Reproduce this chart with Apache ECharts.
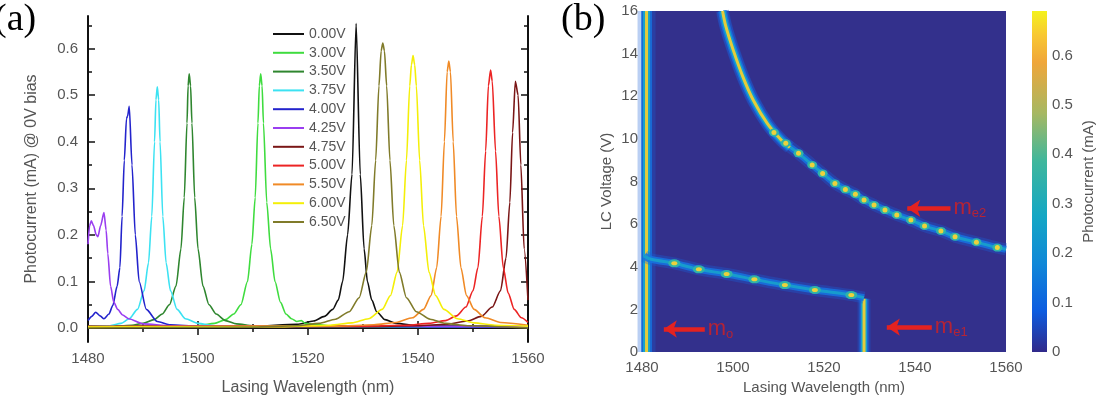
<!DOCTYPE html>
<html>
<head>
	<meta charset="utf-8" />
	<script src="https://cdn.jsdelivr.net/npm/echarts@6/dist/echarts.min.js"></script>
	<style>
		body { margin: 0; background: #fff; }
	</style>
</head>
<body>
	<div id="main" style="width: 1102px;height:396px;"></div>

	<script type="text/javascript">
		// ---- panel (a): photocurrent spectra, one curve per LC voltage ----
		var voltLabels = ['0.00V', '3.00V', '3.50V', '3.75V', '4.00V', '4.25V', '4.75V', '5.00V', '5.50V', '6.00V', '6.50V'];

		var curve000 = [[1480, 0.004], [1510, 0.004], [1518, 0.008], [1521, 0.015], [1523, 0.025], [1524.5, 0.04], [1525.5, 0.06], [1526.3, 0.1], [1527.2, 0.2], [1528, 0.33], [1528.75, 0.654], [1529.5, 0.33], [1530.2, 0.17], [1530.8, 0.1], [1531.6, 0.06], [1532.5, 0.035], [1534, 0.018], [1536, 0.01], [1540, 0.005], [1560, 0.003]];
		var curve300 = [[1480, 0.002], [1495, 0.003], [1500, 0.005], [1503, 0.01], [1505, 0.018], [1506.5, 0.03], [1507.8, 0.05], [1509, 0.1], [1509.8, 0.18], [1510.4, 0.28], [1510.9, 0.44], [1511.15, 0.52], [1511.4, 0.546], [1511.65, 0.52], [1511.9, 0.44], [1512.5, 0.27], [1513.2, 0.17], [1514, 0.1], [1515, 0.055], [1516, 0.03], [1517, 0.02], [1518, 0.014], [1518.8, 0.016], [1519.5, 0.01], [1521, 0.008], [1525, 0.004], [1560, 0.002]];
		var curve350 = [[1480, 0.003], [1485, 0.004], [1488, 0.006], [1490, 0.01], [1492, 0.018], [1493.5, 0.03], [1494.8, 0.05], [1496, 0.09], [1496.9, 0.17], [1497.5, 0.28], [1498, 0.44], [1498.2, 0.52], [1498.4, 0.546], [1498.65, 0.52], [1498.9, 0.44], [1499.4, 0.28], [1500, 0.17], [1500.9, 0.09], [1502, 0.05], [1503.3, 0.03], [1505, 0.016], [1507, 0.009], [1510, 0.005], [1520, 0.003], [1560, 0.002]];
		var curve375 = [[1480, 0.003], [1484, 0.005], [1486, 0.01], [1487.5, 0.02], [1489, 0.04], [1490.2, 0.08], [1491, 0.14], [1491.6, 0.24], [1492.1, 0.4], [1492.35, 0.49], [1492.6, 0.518], [1492.85, 0.49], [1493.1, 0.4], [1493.6, 0.24], [1494.2, 0.14], [1495, 0.08], [1496.2, 0.04], [1497.7, 0.02], [1500, 0.01], [1503, 0.005], [1510, 0.003], [1560, 0.002]];
		var curve400 = [[1480, 0.016], [1480.7, 0.025], [1481.4, 0.034], [1482.2, 0.026], [1482.9, 0.02], [1483.8, 0.03], [1484.5, 0.048], [1485.3, 0.09], [1485.8, 0.13], [1486.2, 0.24], [1486.6, 0.36], [1487.0, 0.45], [1487.2, 0.455], [1487.5, 0.476], [1488.0, 0.35], [1488.6, 0.2], [1489.3, 0.1], [1490.6, 0.04], [1492.6, 0.014], [1495, 0.007], [1500, 0.004], [1560, 0.002]];
		var curve425 = [[1480, 0.18], [1480.3, 0.22], [1480.6, 0.23], [1481, 0.22], [1481.5, 0.2], [1481.8, 0.196], [1482.3, 0.22], [1482.9, 0.248], [1483.3, 0.21], [1483.6, 0.16], [1484.1, 0.09], [1484.7, 0.055], [1485.4, 0.04], [1486.3, 0.028], [1487.4, 0.02], [1490, 0.009], [1495, 0.005], [1560, 0.003]];
		var curve475 = [[1480, 0.003], [1530, 0.003], [1540, 0.005], [1545, 0.008], [1549, 0.015], [1551.5, 0.025], [1553.5, 0.045], [1555, 0.08], [1556, 0.15], [1556.7, 0.27], [1557.2, 0.42], [1557.7, 0.53], [1558.2, 0.5], [1558.7, 0.35], [1559.3, 0.17], [1560, 0.06]];
		var curve500 = [[1480, 0.003], [1530, 0.004], [1538, 0.006], [1542, 0.01], [1545, 0.016], [1547, 0.026], [1548.7, 0.045], [1550, 0.08], [1550.9, 0.13], [1551.7, 0.24], [1552.3, 0.38], [1552.8, 0.52], [1553.2, 0.554], [1553.5, 0.53], [1554.1, 0.38], [1554.7, 0.24], [1555.5, 0.13], [1556.4, 0.075], [1557.5, 0.04], [1558.8, 0.022], [1560, 0.012]];
		var curve550 = [[1480, 0.003], [1525, 0.004], [1532, 0.007], [1536, 0.012], [1539, 0.022], [1541, 0.04], [1542.4, 0.07], [1543.4, 0.13], [1544.2, 0.24], [1544.8, 0.4], [1545.3, 0.55], [1545.6, 0.573], [1545.9, 0.55], [1546.4, 0.4], [1547, 0.24], [1547.8, 0.13], [1548.8, 0.07], [1550.2, 0.04], [1552.2, 0.022], [1555, 0.012], [1560, 0.006]];
		var curve600 = [[1480, 0.002], [1515, 0.003], [1524, 0.006], [1528, 0.011], [1531, 0.02], [1533.5, 0.04], [1535, 0.07], [1536.2, 0.12], [1537.2, 0.22], [1537.9, 0.36], [1538.5, 0.52], [1538.8, 0.565], [1539.1, 0.585], [1539.4, 0.565], [1539.7, 0.52], [1540.3, 0.36], [1541, 0.22], [1542, 0.12], [1543.2, 0.07], [1544.7, 0.04], [1547.2, 0.02], [1550.2, 0.011], [1554, 0.006], [1560, 0.004]];
		var curve650 = [[1480, 0.0], [1510, 0.002], [1518, 0.005], [1522, 0.01], [1525, 0.019], [1527.5, 0.035], [1529.3, 0.065], [1530.6, 0.12], [1531.6, 0.22], [1532.3, 0.36], [1532.9, 0.52], [1533.3, 0.595], [1533.6, 0.612], [1533.9, 0.595], [1534.3, 0.52], [1534.9, 0.36], [1535.6, 0.22], [1536.6, 0.12], [1537.9, 0.065], [1539.7, 0.035], [1542.2, 0.019], [1545, 0.01], [1549, 0.005], [1560, 0.0]];

		var curves = [curve000, curve300, curve350, curve375, curve400, curve425, curve475, curve500, curve550, curve600, curve650];
		var lineColors = ['#111111', '#3fdc3f', '#2f862f', '#3ce2f2', '#2323cc', '#9a3ef0', '#7a1616', '#ec2424', '#f08a26', '#f4ef08', '#807b2a'];

		var yMajor = [0, 0.1, 0.2, 0.3, 0.4, 0.5, 0.6];
		var yMinor = [0.05, 0.15, 0.25, 0.35, 0.45, 0.55, 0.65];

		// ---- panel (b): mode tracks in the wavelength / LC voltage map ----
		var moTrack = [[1481, 0], [1481, 16]];
		var me1Vertical = [[1528.8, 0], [1528.8, 2.5]];
		var me1Diag = [[1480.5, 4.5], [1482, 4.35], [1487.1, 4.16], [1492.5, 3.88], [1498.6, 3.66], [1504.7, 3.41], [1511.4, 3.14], [1518, 2.91], [1526, 2.67], [1528.8, 2.55]];
		var me1Dots = [[1487.1, 4.16], [1492.5, 3.88], [1498.6, 3.66], [1504.7, 3.41], [1511.4, 3.14], [1518, 2.91], [1526, 2.67]];
		var me2Curve = [[1497.7, 16], [1498.4, 15.3], [1500, 14.2], [1502.2, 12.9], [1504.5, 11.8], [1507.6, 10.7], [1510.6, 9.95], [1514.4, 9.32], [1517.4, 8.78], [1519.7, 8.38], [1522.4, 7.91], [1524.7, 7.63], [1526.9, 7.4], [1528.8, 7.13], [1531, 6.9], [1533.4, 6.66], [1536, 6.43], [1539.1, 6.19], [1542.1, 5.91], [1545.7, 5.68], [1548.8, 5.41], [1553.5, 5.15], [1558.1, 4.9], [1560, 4.82]];
		var me2Core = [[1497.7, 16], [1498.4, 15.3], [1500, 14.2], [1502.2, 12.9], [1504.5, 11.8], [1507.6, 10.7], [1510.6, 9.95], [1512.5, 9.6]];
		var me2Dots = [[1509, 10.3], [1511.6, 9.8], [1514.4, 9.32], [1517.4, 8.78], [1519.7, 8.38], [1522.4, 7.91], [1524.7, 7.63], [1526.9, 7.4], [1528.8, 7.13], [1531, 6.9], [1533.4, 6.66], [1536, 6.43], [1539.1, 6.19], [1542.1, 5.91], [1545.7, 5.68], [1548.8, 5.41], [1553.5, 5.15], [1558.1, 4.9]];

		// arrows: [tail, tip] and the label of each mode
		var arrowMo = [[1493.8, 1.08], [1484.8, 1.08]];
		var arrowMe1 = [[1543.7, 1.17], [1533.8, 1.17]];
		var arrowMe2 = [[1547.8, 6.74], [1538.3, 6.74]];
		var modeNames = [['m', 'o'], ['m', 'e1'], ['m', 'e2']];

		var cbarMax = 0.69;
		var cbarTicks = [0, 0.1, 0.2, 0.3, 0.4, 0.5, 0.6];

		var myChart = echarts.init(document.getElementById('main'), null, { renderer: 'canvas' });

		var font = 'Liberation Sans, Arial, sans-serif';
		var grey = '#555';

		function frameY(pos, values, len, withLine) {
			return {
				type: 'value', gridIndex: 0, position: pos, min: -0.03, max: 0.67,
				axisLine: { show: withLine, lineStyle: { color: '#111', width: 2 } },
				axisTick: { show: true, inside: true, length: len, customValues: values, lineStyle: { color: '#111', width: 1.5 } },
				axisLabel: { show: false },
				splitLine: { show: false }
			};
		}

		function glow(data, layers) {
			return layers.map(function (l) {
				return {
					type: 'line', xAxisIndex: 2, yAxisIndex: 4, data: data, symbol: 'none', silent: true,
					smooth: 0.3, z: 2, lineStyle: { color: l[0], width: l[1], opacity: l[2] }
				};
			});
		}
		var edgeGlow = [['#1a5fd6', 18, 0.3], ['#1673e0', 11, 0.8], ['#17a2cc', 7, 1], ['#e4cc3a', 3, 1]];
		var fullGlow = [['#1a5fd6', 13, 0.35], ['#1673e0', 9, 0.8], ['#17a2cc', 6, 1], ['#e4cc3a', 3, 1]];
		var dotGlow = [['#1a5fd6', 12, 0.35], ['#1673e0', 7, 0.85], ['#17a2cc', 3, 0.9]];

		function dots(data, outer, inner) {
			return [
				{ type: 'scatter', xAxisIndex: 2, yAxisIndex: 4, z: 5, data: data.slice(), symbol: 'circle', symbolSize: outer, silent: true, itemStyle: { color: '#2fb3a8', opacity: 1 } },
				{ type: 'scatter', xAxisIndex: 2, yAxisIndex: 4, z: 6, data: data.slice(), symbol: 'circle', symbolSize: inner, silent: true, itemStyle: { color: '#ecd23c', opacity: 1 } }
			];
		}

		var series = curves.map(function (c, i) {
			return {
				name: voltLabels[i], type: 'line', xAxisIndex: 0, yAxisIndex: 0, data: c,
				symbol: 'none', smooth: 0.25, smoothMonotone: 'x',
				lineStyle: { color: lineColors[i], width: 1.6 }, itemStyle: { color: lineColors[i] }
			};
		});

		series = series
			.concat(glow(moTrack, edgeGlow))
			.concat(glow(me1Vertical, fullGlow))
			.concat(glow(me1Diag, dotGlow))
			.concat(glow(me2Curve, dotGlow))
			.concat(glow(me2Core, fullGlow))
			.concat(dots(me1Dots, [12, 8], [6, 4]))
			.concat(dots(me2Dots, [10, 8], [5, 5]));

		series.push({
			type: 'lines', coordinateSystem: 'cartesian2d', xAxisIndex: 2, yAxisIndex: 4, silent: true, z: 7,
			symbol: ['none', 'arrow'], symbolSize: 13,
			lineStyle: { color: '#e42220', width: 4.5, opacity: 1 },
			data: [{ coords: arrowMo }, { coords: arrowMe1 }, { coords: arrowMe2 }]
		});

		series.push({
			type: 'scatter', xAxisIndex: 2, yAxisIndex: 4, symbolSize: 0, silent: true, z: 7,
			data: [arrowMo[0], arrowMe1[0], arrowMe2[0]].map(function (p, i) {
				return { value: p, label: { formatter: '{m|' + modeNames[i][0] + '}{s|' + modeNames[i][1] + '}' } };
			}),
			label: {
				show: true, position: 'right', distance: 3,
				rich: {
					m: { fontSize: 22, color: '#d42020', fontFamily: font },
					s: { fontSize: 13, color: '#d42020', fontFamily: font, verticalAlign: 'bottom', padding: [10, 0, 0, 0] }
				}
			}
		});

		// colorbar
		series.push({
			type: 'bar', xAxisIndex: 3, yAxisIndex: 5, data: [cbarMax], barWidth: '100%', silent: true,
			itemStyle: {
				color: {
					type: 'linear', x: 0, y: 1, x2: 0, y2: 0,
					colorStops: [
						{ offset: 0, color: '#31298a' }, { offset: 0.12, color: '#0d5ce0' },
						{ offset: 0.26, color: '#1088d8' }, { offset: 0.4, color: '#14a7c4' },
						{ offset: 0.56, color: '#3fb79c' }, { offset: 0.7, color: '#a6b862' },
						{ offset: 0.85, color: '#f0a63a' }, { offset: 0.93, color: '#f8c832' },
						{ offset: 1, color: '#f4f21c' }
					]
				}
			}
		});

		var plainNum = function (v) { return String(v); };

		var option = {
			animation: false,
			textStyle: { fontFamily: font },
			legend: {
				data: voltLabels, orient: 'vertical', left: 272, top: 27, padding: 0,
				itemWidth: 31, itemHeight: 14, itemGap: 4.8,
				itemStyle: { opacity: 0 },
				lineStyle: { width: 2 },
				textStyle: { fontSize: 14, color: grey, fontFamily: font }
			},
			graphic: [
				{ type: 'text', left: -6, top: 1, style: { text: '(a)', font: '38px "Liberation Serif", serif', fill: '#000' } },
				{ type: 'text', left: 561, top: 1, style: { text: '(b)', font: '38px "Liberation Serif", serif', fill: '#000' } }
			],
			grid: [
				{ left: 88, top: 16, width: 440, height: 326, outerBoundsMode: 'none' },
				{ left: 642, top: 11, width: 364, height: 341, show: true, backgroundColor: '#33308c', borderWidth: 0, outerBoundsMode: 'none' },
				{ left: 1032, top: 11, width: 15, height: 341, outerBoundsMode: 'none' }
			],
			xAxis: [
				{
					type: 'value', gridIndex: 0, min: 1480, max: 1560, interval: 20,
					name: 'Lasing Wavelength (nm)', nameLocation: 'middle', nameGap: 38,
					nameTextStyle: { fontSize: 16, color: grey },
					axisLine: { lineStyle: { color: '#111', width: 2 } },
					axisTick: { inside: true, length: 7, lineStyle: { color: '#111', width: 1.5 } },
					minorTick: { show: true, splitNumber: 2, length: 4, lineStyle: { color: '#111', width: 1.5 } },
					axisLabel: { margin: 9, fontSize: 15, color: grey, formatter: plainNum },
					splitLine: { show: false }
				},
				{
					type: 'value', gridIndex: 0, position: 'top', min: 1480, max: 1560, interval: 20,
					axisLine: { lineStyle: { color: '#111', width: 2 } },
					axisTick: { inside: true, length: 7, lineStyle: { color: '#111', width: 1.5 } },
					minorTick: { show: true, splitNumber: 2, length: 4, lineStyle: { color: '#111', width: 1.5 } },
					axisLabel: { show: false },
					splitLine: { show: false }
				},
				{
					type: 'value', gridIndex: 1, min: 1480, max: 1560, interval: 20,
					name: 'Lasing Wavelength (nm)', nameLocation: 'middle', nameGap: 28,
					nameTextStyle: { fontSize: 15, color: grey },
					axisLine: { show: false }, axisTick: { show: false },
					axisLabel: { margin: 8, fontSize: 15, color: grey, formatter: plainNum },
					splitLine: { show: false }
				},
				{
					type: 'category', gridIndex: 2, data: ['c'], show: false
				}
			],
			yAxis: [
				{
					type: 'value', gridIndex: 0, min: -0.03, max: 0.67,
					name: 'Photocurrent (mA) @ 0V bias', nameLocation: 'middle', nameGap: 48,
					nameTextStyle: { fontSize: 16, color: grey },
					axisLine: { show: true, lineStyle: { color: '#111', width: 2 } },
					axisTick: { show: true, inside: true, length: 7, customValues: yMajor, lineStyle: { color: '#111', width: 1.5 } },
					axisLabel: {
						margin: 10, fontSize: 15, color: grey, customValues: yMajor,
						formatter: function (v) { return v.toFixed(1); }
					},
					splitLine: { show: false }
				},
				frameY('left', yMinor, 4, false),
				frameY('right', yMajor, 7, true),
				frameY('right', yMinor, 4, false),
				{
					type: 'value', gridIndex: 1, min: 0, max: 16, interval: 2,
					name: 'LC Voltage (V)', nameLocation: 'middle', nameGap: 28,
					nameTextStyle: { fontSize: 15, color: grey },
					axisLine: { show: false }, axisTick: { show: false },
					axisLabel: { margin: 4, fontSize: 15, color: grey },
					splitLine: { show: false }
				},
				{
					type: 'value', gridIndex: 2, position: 'right', min: 0, max: cbarMax,
					name: 'Photocurrent (mA)', nameLocation: 'middle', nameGap: 34, nameRotate: 90,
					nameTextStyle: { fontSize: 15, color: grey },
					axisLine: { show: false }, axisTick: { show: false },
					axisLabel: {
						margin: 5, fontSize: 15, color: grey, customValues: cbarTicks,
						formatter: function (v) { return v === 0 ? '0' : v.toFixed(1); }
					},
					splitLine: { show: false }
				}
			],
			series: series
		};

		myChart.setOption(option);
	</script>
</body>
</html>
